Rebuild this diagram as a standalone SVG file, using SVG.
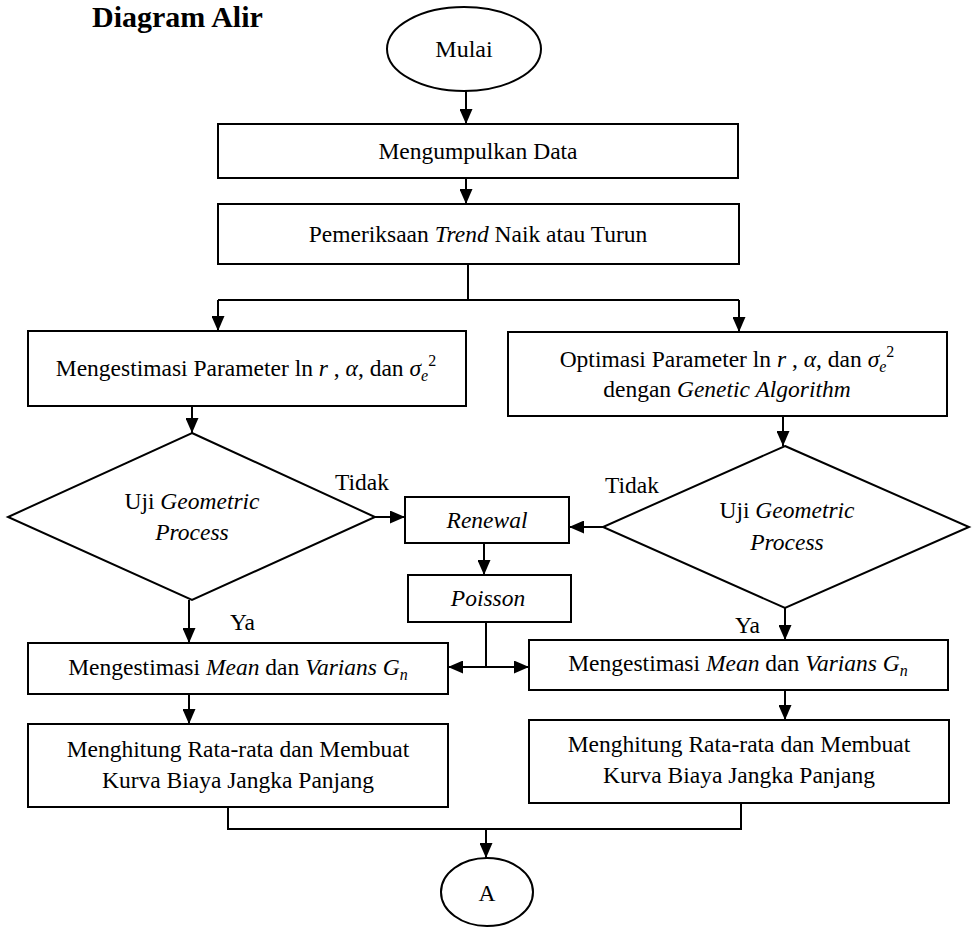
<svg xmlns="http://www.w3.org/2000/svg" width="974" height="927" viewBox="0 0 974 927">
<style>
.shape{fill:#fff;stroke:#000;stroke-width:2}
.t{font-family:"Liberation Serif","Times New Roman",serif;font-size:23.5px;fill:#000}
.c{text-anchor:middle}
.i{font-style:italic}
.s{font-size:16px}
.conn path{fill:none;stroke:#000;stroke-width:2}
.title{font-family:"Liberation Serif","Times New Roman",serif;font-size:30px;font-weight:bold;fill:#000}
</style>
<defs>
<marker id="arr" markerUnits="userSpaceOnUse" markerWidth="15" markerHeight="13" viewBox="0 0 15 13" refX="15" refY="6.5" orient="auto">
<path d="M0,0 L15,6.5 L0,13 z" fill="#000"/>
</marker>
</defs>
<rect width="974" height="927" fill="#fff"/>
<text class="title" x="92" y="27">Diagram Alir</text>

<g id="mulai">
<ellipse class="shape" cx="464" cy="49" rx="77" ry="42"/>
<text class="t c" x="464" y="57" style="font-size:24px">Mulai</text>
</g>
<g id="kumpul">
<rect class="shape" x="218" y="124" width="520" height="54"/>
<text class="t c" x="478" y="159">Mengumpulkan Data</text>
</g>
<g id="trend">
<rect class="shape" x="218" y="204" width="521" height="60"/>
<text class="t c" x="478" y="242">Pemeriksaan <tspan class="i">Trend</tspan> Naik atau Turun</text>
</g>
<g id="estimasi">
<rect class="shape" x="28" y="331" width="438" height="75"/>
<text class="t c" x="246" y="376">Mengestimasi Parameter ln <tspan class="i">r</tspan> , <tspan class="i">α</tspan>, dan <tspan class="i">σ</tspan><tspan class="i s" dy="5">e</tspan><tspan class="s" dy="-15">2</tspan></text>
</g>
<g id="optimasi">
<rect class="shape" x="508" y="332" width="439" height="84"/>
<text class="t c" x="727" y="367">Optimasi Parameter ln <tspan class="i">r</tspan> , <tspan class="i">α</tspan>, dan <tspan class="i">σ</tspan><tspan class="i s" dy="5">e</tspan><tspan class="s" dy="-15">2</tspan></text>
<text class="t c" x="727" y="397">dengan <tspan class="i">Genetic Algorithm</tspan></text>
</g>
<g id="uji-kiri">
<polygon class="shape" points="192,433 375,517 192,600 8,517"/>
<text class="t c" x="192" y="509">Uji <tspan class="i">Geometric</tspan></text>
<text class="t c i" x="192" y="540">Process</text>
</g>
<g id="uji-kanan">
<polygon class="shape" points="785,446 969,527 785,608 603,527"/>
<text class="t c" x="787" y="518">Uji <tspan class="i">Geometric</tspan></text>
<text class="t c i" x="787" y="550">Process</text>
</g>
<g id="renewal">
<rect class="shape" x="405" y="497" width="164" height="46"/>
<text class="t c i" x="487" y="528">Renewal</text>
</g>
<g id="poisson">
<rect class="shape" x="408" y="575" width="163" height="47"/>
<text class="t c i" x="488" y="606">Poisson</text>
</g>
<g id="mean-kiri">
<rect class="shape" x="28" y="643" width="420" height="51"/>
<text class="t c" x="238" y="675">Mengestimasi <tspan class="i">Mean</tspan> dan <tspan class="i">Varians G</tspan><tspan class="i s" dy="5">n</tspan></text>
</g>
<g id="mean-kanan">
<rect class="shape" x="529" y="640" width="419" height="50"/>
<text class="t c" x="738" y="671">Mengestimasi <tspan class="i">Mean</tspan> dan <tspan class="i">Varians G</tspan><tspan class="i s" dy="5">n</tspan></text>
</g>
<g id="hitung-kiri">
<rect class="shape" x="28" y="724" width="420" height="83"/>
<text class="t c" x="238" y="757">Menghitung Rata-rata dan Membuat</text>
<text class="t c" x="238" y="788">Kurva Biaya Jangka Panjang</text>
</g>
<g id="hitung-kanan">
<rect class="shape" x="529" y="720" width="420" height="83"/>
<text class="t c" x="739" y="752">Menghitung Rata-rata dan Membuat</text>
<text class="t c" x="739" y="783">Kurva Biaya Jangka Panjang</text>
</g>
<g id="a">
<ellipse class="shape" cx="487" cy="892" rx="46" ry="34"/>
<text class="t c" x="487" y="901">A</text>
</g>

<g class="conn">
<path d="M466,91 V124" marker-end="url(#arr)"/>
<path d="M466,178 V204" marker-end="url(#arr)"/>
<path d="M468,264 V300 M218,300 H739"/>
<path d="M218,300 V331" marker-end="url(#arr)"/>
<path d="M739,300 V332" marker-end="url(#arr)"/>
<path d="M192,406 V433" marker-end="url(#arr)"/>
<path d="M783,416 V446" marker-end="url(#arr)"/>
<path d="M375,517 H405" marker-end="url(#arr)"/>
<path d="M603,527 H569" marker-end="url(#arr)"/>
<path d="M484,543 V575" marker-end="url(#arr)"/>
<path d="M486,622 V668"/>
<path d="M486,667 H448" marker-end="url(#arr)"/>
<path d="M486,667 H529" marker-end="url(#arr)"/>
<path d="M189,600 V643" marker-end="url(#arr)"/>
<path d="M785,608 V640" marker-end="url(#arr)"/>
<path d="M189,694 V724" marker-end="url(#arr)"/>
<path d="M785,690 V720" marker-end="url(#arr)"/>
<path d="M228,807 V829 H741 V803"/>
<path d="M486,829 V858" marker-end="url(#arr)"/>
</g>
<g id="labels">
<text class="t" x="335" y="490">Tidak</text>
<text class="t" x="605" y="493">Tidak</text>
<text class="t" x="230" y="630">Ya</text>
<text class="t" x="735" y="633">Ya</text>
</g>
</svg>
